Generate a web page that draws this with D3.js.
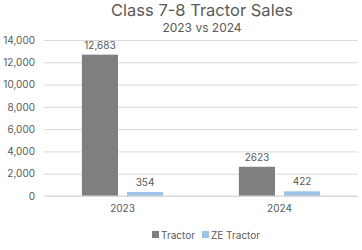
<!DOCTYPE html>
<html>
<head>
<meta charset="utf-8">
<script src="https://cdn.jsdelivr.net/npm/d3@7"></script>
<style>
  body { margin: 0; background: #fff; }
  text { font-family: Inter, "Noto Sans", sans-serif; fill: #595959; }
</style>
</head>
<body>
<div id="chartDiv"></div>
<script>
var years = ["2023", "2024"];
var seriesNames = ["Tractor", "ZE Tractor"];
var tractor = [12683, 2623];
var zeTractor = [354, 422];
var tractorLabels = ["12,683", "2623"];
var zeLabels = ["354", "422"];
var yTicks = [0, 2000, 4000, 6000, 8000, 10000, 12000, 14000];

var width = 362, height = 250;
var colors = {"Tractor": "#7f7f7f", "ZE Tractor": "#9dc3e6"};

var svg = d3.select("#chartDiv").append("svg")
    .attr("width", width)
    .attr("height", height);

const margin = {top: 40, right: 4, bottom: 54, left: 44};

let x0 = d3.scaleBand()
    .domain(years)
    .range([margin.left, width - margin.right]);

let x1 = d3.scaleBand()
    .domain(seriesNames)
    .range([0, x0.bandwidth()])
    .paddingInner(0.2)
    .paddingOuter(0.84);

let y = d3.scaleLinear()
    .domain([0, 14000])
    .range([height - margin.bottom, margin.top]);

// gridlines + tick labels
let yAxis = d3.axisLeft(y)
    .tickValues(yTicks)
    .tickSize(-(width - margin.left - margin.right))
    .tickPadding(9)
    .tickFormat(d3.format(","));

let ga = svg.append("g")
    .attr("transform", `translate(${margin.left},0)`)
    .call(yAxis);
ga.select(".domain").remove();
ga.selectAll(".tick line").attr("stroke", "#d9d9d9").attr("stroke-width", 1);
ga.selectAll(".tick text").style("font-size", "10px").attr("fill", "#595959");

// rows for bars
var rows = [];
years.forEach((yr, i) => {
    rows.push({year: yr, name: "Tractor", value: tractor[i], label: tractorLabels[i]});
    rows.push({year: yr, name: "ZE Tractor", value: zeTractor[i], label: zeLabels[i]});
});

svg.append("g").selectAll("rect")
    .data(rows)
    .join("rect")
    .attr("x", d => x0(d.year) + x1(d.name))
    .attr("y", d => y(d.value))
    .attr("width", x1.bandwidth())
    .attr("height", d => y(0) - y(d.value))
    .attr("fill", d => colors[d.name]);

svg.append("g").selectAll("text")
    .data(rows)
    .join("text")
    .attr("x", d => x0(d.year) + x1(d.name) + x1.bandwidth() / 2)
    .attr("y", d => y(d.value) - 6)
    .attr("text-anchor", "middle")
    .style("font-size", "10px")
    .attr("fill", "#404040")
    .text(d => d.label);

// x axis base line
svg.append("line")
    .attr("x1", margin.left).attr("x2", width - margin.right)
    .attr("y1", y(0)).attr("y2", y(0))
    .attr("stroke", "#d9d9d9");

let xAxis = d3.axisBottom(x0).tickSize(0).tickPadding(9);
let gx = svg.append("g")
    .attr("transform", `translate(0,${y(0)})`)
    .call(xAxis);
gx.select(".domain").remove();
gx.selectAll(".tick text").style("font-size", "10px").attr("fill", "#595959");

// titles
svg.append("text")
    .attr("x", 202).attr("y", 16)
    .attr("text-anchor", "middle")
    .style("font-size", "16.5px")
    .text("Class 7-8 Tractor Sales");

svg.append("text")
    .attr("x", 202).attr("y", 32)
    .attr("text-anchor", "middle")
    .style("font-size", "12px")
    .text("2023 vs 2024");

// legend
var legendX = [152, 202];
var lg = svg.append("g").selectAll("g")
    .data(seriesNames)
    .join("g")
    .attr("transform", (d, i) => `translate(${legendX[i]},235)`);
lg.append("rect")
    .attr("x", 0).attr("y", -4)
    .attr("width", 7).attr("height", 7)
    .attr("fill", d => colors[d]);
lg.append("text")
    .attr("x", 9).attr("y", 0)
    .attr("dy", "0.35em")
    .style("font-size", "10px")
    .text(d => d);
</script>
</body>
</html>
